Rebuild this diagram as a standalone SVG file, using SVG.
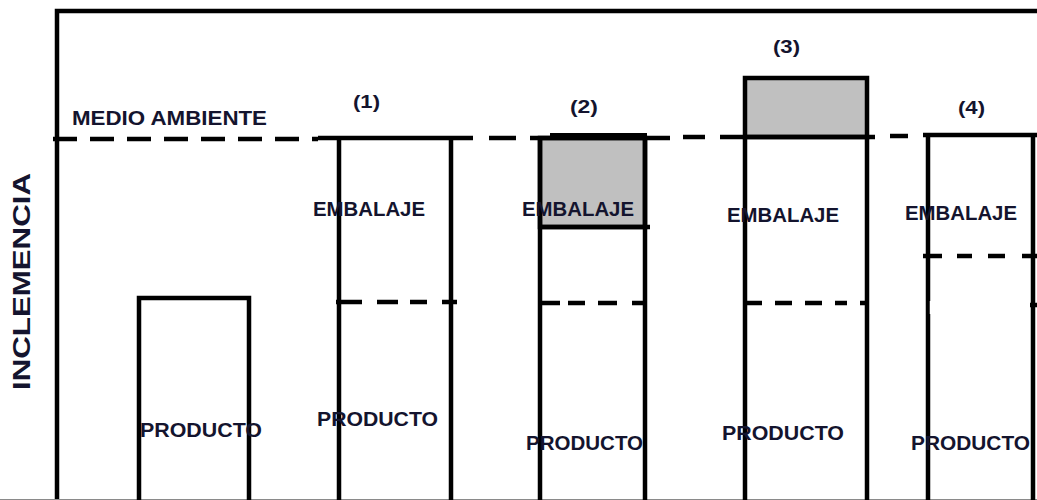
<svg xmlns="http://www.w3.org/2000/svg" width="1037" height="500" viewBox="0 0 1037 500">
<style>
.ln{stroke:#000;stroke-width:4.5;fill:none;stroke-linecap:butt}
.dash{stroke:#000;stroke-width:4.5;fill:none;stroke-dasharray:24 13}
.t{font-family:"Liberation Sans",Arial,sans-serif;font-weight:bold;fill:#14142e}
.lb{font-size:21px}
.nm{font-size:19px}
.gray{fill:#c0c0c0;stroke:#000;stroke-width:4.5}
</style>
<rect width="1037" height="500" fill="#fff"/>
<g id="frame">
<path class="ln" d="M57,500 V11 H1037"/>
<line x1="0" y1="499.5" x2="1037" y2="499.5" stroke="#8a8a8a" stroke-width="1"/>
<text class="t" transform="translate(30,390) rotate(-90)" font-size="23" textLength="217" lengthAdjust="spacingAndGlyphs" fill="#1f2a5a">INCLEMENCIA</text>
</g>
<g id="medio-ambiente">
<line class="dash" x1="53" y1="139" x2="318" y2="139"/>
<line class="ln" x1="489" y1="138" x2="516" y2="138"/>
<line class="ln" x1="683" y1="137" x2="705" y2="137"/>
<line class="ln" x1="890" y1="136" x2="908" y2="136"/>
<text class="t lb" x="72" y="125" textLength="195" lengthAdjust="spacingAndGlyphs">MEDIO AMBIENTE</text>
</g>
<g id="box0">
<path class="ln" d="M139,500 V298 H249 V500"/>
<text class="t lb" x="140" y="437" textLength="122" lengthAdjust="spacingAndGlyphs">PRODUCTO</text>
</g>
<g id="box1">
<path class="ln" d="M318,138 H473"/>
<path class="ln" d="M339,138 V500 M451,138 V500"/>
<path class="ln" d="M336,302 H362 M377,302 H398 M410,302 H427 M442,302 H457"/>
<text class="t nm" x="353" y="108" textLength="27" lengthAdjust="spacingAndGlyphs">(1)</text>
<text class="t lb" x="313" y="216" textLength="112" lengthAdjust="spacingAndGlyphs">EMBALAJE</text>
<text class="t lb" x="317" y="426" textLength="121" lengthAdjust="spacingAndGlyphs">PRODUCTO</text>
</g>
<g id="box2">
<rect class="gray" x="540" y="138" width="105" height="89"/>
<path class="ln" d="M530,138 H670"/>
<line x1="550" y1="136.5" x2="647" y2="136.5" stroke="#000" stroke-width="7"/>
<path class="ln" d="M540,138 V500 M645,138 V500 M540,227 H650"/>
<path class="ln" d="M538,303 H560 M568,303 H585 M598,303 H617 M632,303 H647"/>
<text class="t nm" x="570" y="113" textLength="28" lengthAdjust="spacingAndGlyphs">(2)</text>
<text class="t lb" x="522" y="216" textLength="112" lengthAdjust="spacingAndGlyphs">EMBALAJE</text>
<text class="t lb" x="526" y="450" textLength="117" lengthAdjust="spacingAndGlyphs">PRODUCTO</text>
</g>
<g id="box3">
<rect class="gray" x="745" y="78" width="122" height="59"/>
<path class="ln" d="M720,137 H875"/>
<path class="ln" d="M745,137 V500 M867,137 V500"/>
<path class="ln" d="M745,303 H762 M775,303 H792 M805,303 H822 M835,303 H847 M860,303 H867"/>
<text class="t nm" x="773" y="53" textLength="27" lengthAdjust="spacingAndGlyphs">(3)</text>
<text class="t lb" x="727" y="222" textLength="112" lengthAdjust="spacingAndGlyphs">EMBALAJE</text>
<text class="t lb" x="722" y="440" textLength="122" lengthAdjust="spacingAndGlyphs">PRODUCTO</text>
</g>
<g id="box4">
<path class="ln" d="M923,135 H1037"/>
<path class="ln" d="M928,135 V500 M1033,135 V500"/>
<path class="ln" d="M923,256 H942 M957,256 H972 M988,256 H1005 M1022,256 H1037"/>
<line class="ln" x1="1030" y1="305" x2="1037" y2="305"/>
<line x1="930.5" y1="301" x2="930.5" y2="314" stroke="#fff" stroke-width="1.5"/>
<text class="t nm" x="958" y="114" textLength="27" lengthAdjust="spacingAndGlyphs">(4)</text>
<text class="t lb" x="905" y="220" textLength="112" lengthAdjust="spacingAndGlyphs">EMBALAJE</text>
<text class="t lb" x="911" y="450" textLength="119" lengthAdjust="spacingAndGlyphs">PRODUCTO</text>
</g>
</svg>
